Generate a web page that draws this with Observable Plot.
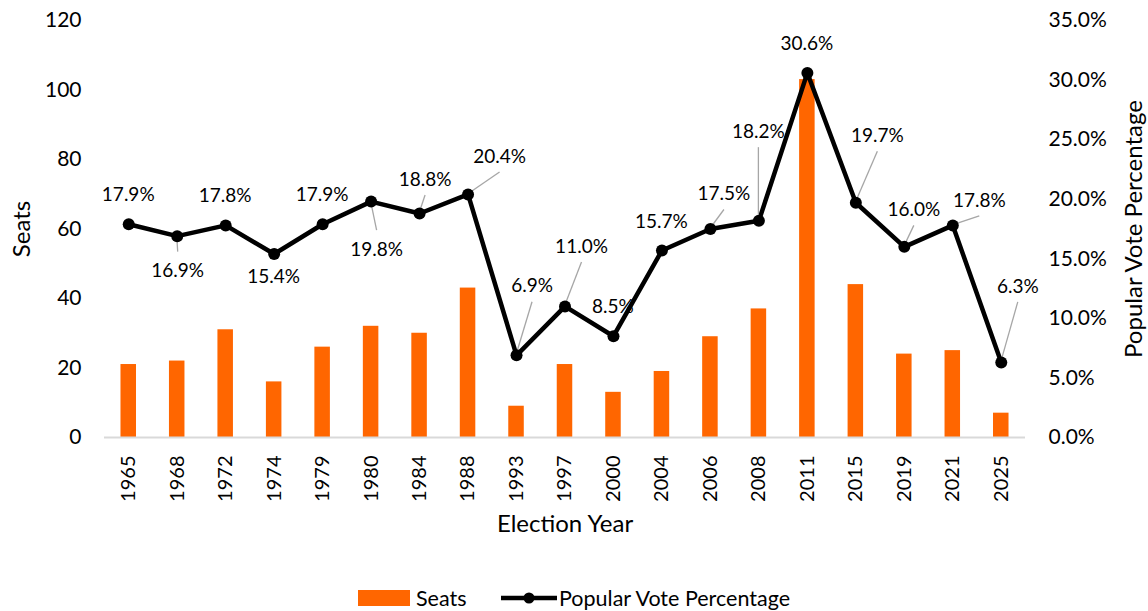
<!DOCTYPE html>
<html>
<head>
<meta charset="utf-8">
<script src="https://cdn.jsdelivr.net/npm/d3@7"></script>
<script src="https://cdn.jsdelivr.net/npm/@observablehq/plot@0.6"></script>
<style>
  html, body { margin: 0; padding: 0; background: #fff; }
  body { width: 1148px; height: 611px; position: relative; overflow: hidden; font-family: Lato, "Noto Sans", sans-serif; }
  #legend { position: absolute; left: 0; top: 580px; width: 1148px; height: 36px; }
  #legend .item { position: absolute; top: 0; height: 36px; display: flex; align-items: center; font-size: 21.5px; color: #000; }
</style>
</head>
<body>
<div id="chart"></div>
<div id="legend">
  <div class="item" style="left:358px"><span style="display:inline-block;width:52px;height:16px;background:#ff6600;margin-right:6px"></span>Seats</div>
  <div class="item" style="left:500px"><svg width="58" height="16" style="margin-right:1px"><line x1="1" y1="8" x2="57" y2="8" stroke="#000" stroke-width="4.5"/><circle cx="29" cy="8" r="5.5" fill="#000"/></svg>Popular Vote Percentage</div>
</div>
<script>
// ---- data ----
const years = ["1965","1968","1972","1974","1979","1980","1984","1988","1993","1997","2000","2004","2006","2008","2011","2015","2019","2021","2025"];
const seats = [21, 22, 31, 16, 26, 32, 30, 43, 9, 21, 13, 19, 29, 37, 103, 44, 24, 25, 7];
const votePct = [17.9, 16.9, 17.8, 15.4, 17.9, 19.8, 18.8, 20.4, 6.9, 11.0, 8.5, 15.7, 17.5, 18.2, 30.6, 19.7, 16.0, 17.8, 6.3];
const seatTicks = [0, 20, 40, 60, 80, 100, 120];
const pctTicks = [0, 5, 10, 15, 20, 25, 30, 35];
const seatMax = 120, pctMax = 35;

// label placement (pixel offsets of each data label from its point)
const labelDx = [0, 1, 0, 0, 0, 6, 6, 32, 16, 17, 0, 0, 14, 0, 0, 22, 10, 27, 17];
const labelDy = [-29, 35, -30, 23, -29, 48, -34, -38, -69, -60, -29, -29, -35, -89, -29, -67, -37, -25, -76];

const data = years.map((y, i) => ({ year: y, seats: seats[i], pct: votePct[i] }));
const toSeatUnits = p => p * seatMax / pctMax;

const FONT = 'Lato, "Noto Sans", sans-serif';

function dataLabels(index, scales) {
  const g = d3.create("svg:g");
  const xs = scales.x, ys = scales.y;
  const bw = xs.bandwidth ? xs.bandwidth() : 0;
  data.forEach((d, i) => {
    const px = xs(d.year) + bw / 2;
    const py = ys(toSeatUnits(d.pct));
    const lx = px + labelDx[i], ly = py + labelDy[i];
    const ey = labelDy[i] < 0 ? ly + 16 : ly - 19;
    const len = Math.hypot(lx - px, ey - py);
    if (len > 15) {
      g.append("line").attr("x1", px).attr("y1", py).attr("x2", lx).attr("y2", ey)
        .attr("stroke", "#a6a6a6").attr("stroke-width", 1.3);
    }
  });
  data.forEach((d, i) => {
    const px = xs(d.year) + bw / 2;
    const py = ys(toSeatUnits(d.pct));
    g.append("text").attr("x", px + labelDx[i]).attr("y", py + labelDy[i])
      .attr("dy", "0.35em").attr("text-anchor", "middle")
      .attr("font-family", FONT).attr("font-size", 19).attr("fill", "#000")
      .text(d.pct.toFixed(1) + "%");
  });
  return g.node();
}

const chart = Plot.plot({
  width: 1148,
  height: 575,
  marginLeft: 104,
  marginRight: 123,
  marginTop: 20,
  marginBottom: 138,
  style: { fontFamily: FONT, fontSize: "21px", color: "#000", background: "#fff" },
  x: { type: "band", domain: years, paddingInner: 0.68, paddingOuter: 0.34, round: false },
  y: { domain: [0, seatMax] },
  marks: [
    Plot.barY(data, { x: "year", y: "seats", fill: "#ff6600" }),
    Plot.ruleY([0], { stroke: "#d9d9d9", strokeWidth: 2 }),
    Plot.axisY(seatTicks, { anchor: "left", tickSize: 0, tickPadding: 23, label: null, fontSize: 21 }),
    Plot.axisY(pctTicks.map(toSeatUnits), { anchor: "right", tickSize: 0, tickPadding: 23, label: null, fontSize: 21,
      tickFormat: d => (d * pctMax / seatMax).toFixed(1) + "%" }),
    Plot.axisX({ tickSize: 0, tickPadding: 18, tickRotate: -90, label: null, fontSize: 20 }),
    Plot.text(["Seats"], { frameAnchor: "left", dx: -82, rotate: -90, fontSize: 24, textAnchor: "middle", lineAnchor: "middle" }),
    Plot.text(["Popular Vote Percentage"], { frameAnchor: "right", dx: 109, rotate: -90, fontSize: 24, textAnchor: "middle", lineAnchor: "middle" }),
    Plot.text(["Election Year"], { frameAnchor: "bottom", dy: 87, fontSize: 24, textAnchor: "middle", lineAnchor: "middle" }),
    Plot.line(data, { x: "year", y: d => toSeatUnits(d.pct), stroke: "#000", strokeWidth: 4.5, strokeLinejoin: "round" }),
    dataLabels,
    Plot.dot(data, { x: "year", y: d => toSeatUnits(d.pct), r: 6, fill: "#000" })
  ]
});
document.getElementById("chart").appendChild(chart);
</script>
</body>
</html>
